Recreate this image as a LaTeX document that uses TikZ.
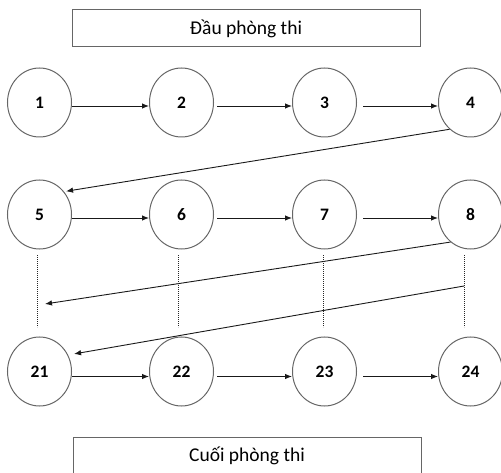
\documentclass[tikz,border=0pt]{standalone}
\usepackage{fontspec}
\setmainfont{Carlito}
\usetikzlibrary{shapes.geometric,arrows.meta}
\begin{document}
\begin{tikzpicture}[x=1pt,y=-1pt,
  station/.style={ellipse,draw=black!60,line width=1pt,minimum width=64pt,minimum height=69pt,inner sep=0pt,font=\fontsize{17.5}{20}\selectfont\bfseries},
  labelbox/.style={draw=black!60,line width=1pt,minimum width=348pt,minimum height=37pt,inner sep=0pt,font=\fontsize{19.5}{22}\selectfont},
  flow/.style={draw=black!90,line width=0.9pt,-{Latex[length=7pt,width=5.5pt]}},
  gapline/.style={draw=black!85,line width=1pt,dash pattern=on 0.8pt off 1.2pt}]
\useasboundingbox (0,0) rectangle (501,473);
\node[labelbox] (top) at (246,28.5) {Đầu phòng thi};
\node[labelbox] (bottom) at (247,455.5) {Cuối phòng thi};
% row 1
\node[station] (n1) at (39.5,102.5) {1};
\node[station] (n2) at (181.5,102.5) {2};
\node[station] (n3) at (324.5,102.5) {3};
\node[station] (n4) at (470.5,102.5) {4};
% row 2
\node[station] (n5) at (39.5,214.5) {5};
\node[station] (n6) at (181.5,214.5) {6};
\node[station] (n7) at (324.5,214.5) {7};
\node[station] (n8) at (470.5,214.5) {8};
% row 3
\node[station] (n21) at (39.5,371.5) {21};
\node[station] (n22) at (181.5,371.5) {22};
\node[station] (n23) at (324.5,371.5) {23};
\node[station] (n24) at (470.5,371.5) {24};
% row arrows
\draw[flow] ([yshift=-3.5pt]n1.east) -- ([yshift=-3.5pt]n2.west);
\draw[flow] ([xshift=3pt,yshift=-3.5pt]n2.east) -- ([yshift=-3.5pt]n3.west);
\draw[flow] ([xshift=6pt,yshift=-3.5pt]n3.east) -- ([yshift=-3.5pt]n4.west);
\draw[flow] ([yshift=-3.5pt]n5.east) -- ([yshift=-3.5pt]n6.west);
\draw[flow] ([xshift=3pt,yshift=-3.5pt]n6.east) -- ([yshift=-3.5pt]n7.west);
\draw[flow] ([xshift=6pt,yshift=-3.5pt]n7.east) -- ([yshift=-3.5pt]n8.west);
\draw[flow] ([yshift=-5pt]n21.east) -- ([yshift=-5pt]n22.west);
\draw[flow] ([xshift=3pt,yshift=-5pt]n22.east) -- ([yshift=-5pt]n23.west);
\draw[flow] ([xshift=6pt,yshift=-5pt]n23.east) -- ([yshift=-5pt]n24.west);
% diagonal arrows
\coordinate (m1) at (45,304);
\coordinate (m2) at (464,286);
\draw[flow,shorten >=2pt] (n4.232) -- (n5.43);
\draw[flow] (n8.234) -- (m1);
\draw[flow,shorten >=6pt] (m2) -- (n21.30);
% dotted gaps
\draw[gapline] ([xshift=-2.5pt,yshift=-6pt]n5.south) -- ([xshift=-2.5pt,yshift=9pt]n21.north);
\draw[gapline] ([xshift=-3.5pt,yshift=-6pt]n6.south) -- ([xshift=-3.5pt,yshift=9pt]n22.north);
\draw[gapline] ([xshift=-1.5pt,yshift=-6pt]n7.south) -- ([xshift=-1.5pt,yshift=9pt]n23.north);
\draw[gapline] ([xshift=-6.5pt,yshift=-6pt]n8.south) -- ([xshift=-6.5pt,yshift=9pt]n24.north);
\end{tikzpicture}
\end{document}
